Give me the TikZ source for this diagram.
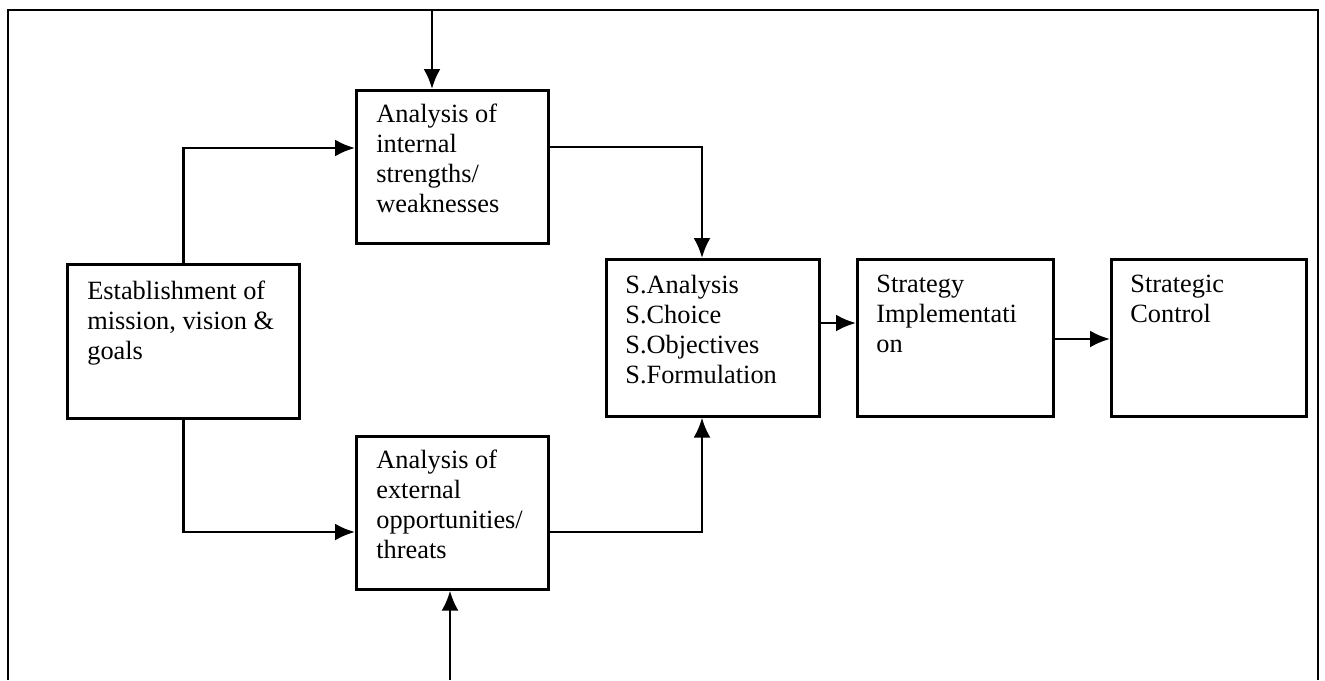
\documentclass[tikz,border=0pt]{standalone}
\usepackage{fontspec}
\setmainfont{Liberation Serif}
\usetikzlibrary{arrows.meta,calc}

\begin{document}
\begin{tikzpicture}
	[
	x=0.02cm, y=-0.02cm, font=\fontsize{15}{17}\selectfont, >={Latex[length=4mm,width=3.4mm]},
	%Voreinstellungen
	kasten/.style={draw, line width=1.5pt, anchor=north west, inner sep=0pt},
	txt/.style={anchor=north west, align=left, inner sep=0pt},
	linie/.style={line width=1.5pt}
	]
	
	\useasboundingbox (0,0) rectangle (1325,680);
	
	%Rahmen
	\draw[linie] (8,680) -- (8,10) -- (1318,10) -- (1318,680);
	
	%Kaesten
	\node[kasten, minimum width=4.64cm, minimum height=3.08cm] (ziele) at (66,263) {};
	\node[kasten, minimum width=3.84cm, minimum height=3.06cm] (intern) at (355,89) {};
	\node[kasten, minimum width=3.84cm, minimum height=3.06cm] (extern) at (355,435) {};
	\node[kasten, minimum width=4.26cm, minimum height=3.14cm] (strat) at (605,258) {};
	\node[kasten, minimum width=3.92cm, minimum height=3.14cm] (umsetz) at (856,258) {};
	\node[kasten, minimum width=3.90cm, minimum height=3.14cm] (kontrolle) at (1110,258) {};
	
	%Texte
	\node[txt] (ziele-t) at ($(ziele.north west)+(21,18)$) {Establishment of\\mission, vision \&\\goals};
	\node[txt] (intern-t) at ($(intern.north west)+(21,15)$) {Analysis of\\internal\\strengths/\\weaknesses};
	\node[txt] (extern-t) at ($(extern.north west)+(21,15)$) {Analysis of\\external\\opportunities/\\threats};
	\node[txt] (strat-t) at ($(strat.north west)+(20,17)$) {S.Analysis\\S.Choice\\S.Objectives\\S.Formulation};
	\node[txt] (umsetz-t) at ($(umsetz.north west)+(20,17)$) {Strategy\\Implementati\\on};
	\node[txt] (kontrolle-t) at ($(kontrolle.north west)+(20,17)$) {Strategic\\Control};
	
	%Pfeile von aussen
	\coordinate (oben) at (432,10);
	\coordinate (unten) at (450,680);
	\draw[linie, ->] (oben) -- (oben |- intern.north);
	\draw[linie, ->] (unten) -- (unten |- extern.south);
	
	%Pfeile zur Analyse
	\draw[linie, ->] (ziele.north) |- ($(intern.north west)+(0,59)$);
	\draw[linie, ->] (ziele.south) |- ($(extern.north west)+(0,97)$);
	
	%Pfeile zu S
	\draw[linie, ->] ($(intern.north east)+(0,58)$) -| ($(strat.north west)+(97,0)$);
	\draw[linie, ->] ($(extern.north east)+(0,97)$) -| ($(strat.south west)+(97,0)$);
	
	%Pfeile nach rechts
	\draw[linie, ->] ($(strat.north east)+(0,65)$) -- ($(umsetz.north west)+(0,65)$);
	\draw[linie, ->] ($(umsetz.north east)+(0,81)$) -- ($(kontrolle.north west)+(0,81)$);
\end{tikzpicture}
\end{document}
